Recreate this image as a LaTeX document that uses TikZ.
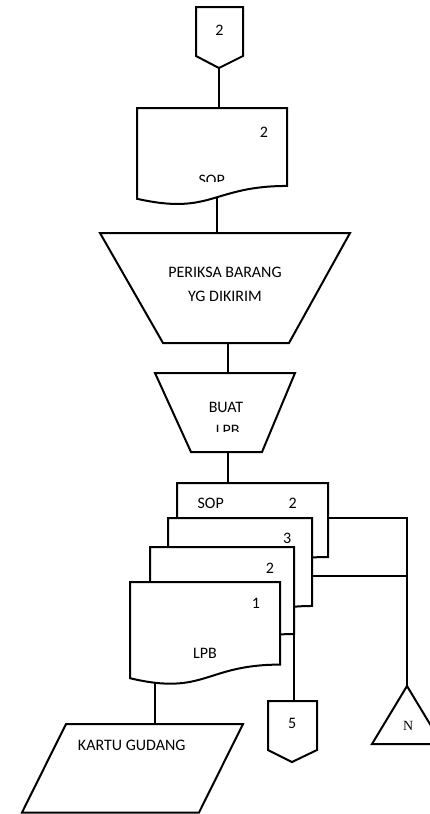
\documentclass[tikz,border=0pt]{standalone}
\usepackage{fontspec}
\setmainfont{Carlito}
\newfontfamily\serifN{Liberation Serif}
\pgfdeclarelayer{bg}
\pgfsetlayers{bg,main}

% Flowchart "document" symbol: #1 name, #2 left, #3 right, #4 top, #5 height
\newcommand\flowdoc[5]{%
  \draw[shp] (#2,#4) -- (#3,#4) -- (#3,{#4+0.802*#5})
    .. controls ({(#2+#3)/2},{#4+0.802*#5}) and ({(#2+#3)/2},{#4+1.1075*#5})
    .. (#2,{#4+0.934*#5}) -- cycle;
  \coordinate (#1-rb) at (#3,{#4+0.802*#5});
}

\begin{document}
\begin{tikzpicture}[x=1pt,y=-1pt,
  shp/.style={draw=black,line width=2pt,fill=white,line join=miter},
  wire/.style={draw=black,line width=2pt},
  lbl/.style={anchor=base,inner sep=0pt,font=\fontsize{16}{19}\selectfont}]
\useasboundingbox (0,0) rectangle (430,814);

% off-page connector 2
\draw[shp] (196,7) -- (243,7) -- (243,56) -- (219,68) -- (196,56) -- cycle;
\coordinate (op2-bot) at (219,68);
\node[lbl] (op2-txt) at (219.5,35) {2};

% document SOP (sheet 2)
\flowdoc{sop}{137}{287}{108}{97.2}
\coordinate (sop-top) at (219,108);
\coordinate (sop-bot) at (217,198);
\node[lbl] (sop-no) at (264,137) {2};
\begin{scope}
  \clip (150,160) rectangle (280,181.7);
  \node[lbl] (sop-txt) at (211.7,185.5) {SOP};
\end{scope}

% manual operation: check goods
\draw[shp] (100,233) -- (350,233) -- (289,343) -- (163,343) -- cycle;
\coordinate (chk-top) at (217,233);
\coordinate (chk-bot) at (228,343);
\node[lbl] (chk-l1) at (225,277.5) {PERIKSA BARANG};
\node[lbl] (chk-l2) at (225,301.5) {YG DIKIRIM};

% manual operation: make LPB
\draw[shp] (155,373) -- (295,373) -- (262,452) -- (191,452) -- cycle;
\coordinate (mk-top) at (228,373);
\coordinate (mk-bot) at (228,452);
\node[lbl] (mk-l1) at (226,412) {BUAT};
\begin{scope}
  \clip (180,415) rectangle (275,431);
  \node[lbl] (mk-l2) at (227.7,435) {LPB};
\end{scope}

% stacked documents, back to front
\flowdoc{dsop}{177}{328}{483}{92.3}
\coordinate (dsop-top) at (228,483);
\coordinate (dsop-r) at (328,518);
\node[lbl] (dsop-txt) at (210.7,508.5) {SOP};
\node[lbl] (dsop-no) at (292.7,508.5) {2};

\flowdoc{d3}{168}{312}{518}{109.7}
\coordinate (d3-r) at (312,576);
\node[lbl] (d3-no) at (287.3,543.5) {3};

\flowdoc{d2}{150}{294}{547}{108.5}
\node[lbl] (d2-no) at (270,573.5) {2};

\flowdoc{d1}{130}{280}{582}{103}
\coordinate (d1-bot) at (155,682);
\node[lbl] (d1-no) at (256,608.5) {1};
\node[lbl] (d1-txt) at (205,658) {LPB};

% off-page connector 5
\draw[shp] (268,701) -- (317,701) -- (317,750) -- (292,762) -- (268,750) -- cycle;
\coordinate (op5-top) at (294,701);
\node[lbl] (op5-txt) at (292.3,728.5) {5};

% file N
\draw[shp] (407,686) -- (442,744) -- (372,744) -- cycle;
\coordinate (fn-top) at (407,686);
\coordinate (fn-j1) at (407,518);
\coordinate (fn-j2) at (407,576);
\node[lbl,font=\serifN\fontsize{14}{16}\selectfont] (fn-txt) at (408.3,730.5) {N};

% record: stock card
\draw[shp] (66,724) -- (243,724) -- (199,812.5) -- (22,812.5) -- cycle;
\coordinate (kg-top) at (155,724);
\node[lbl] (kg-txt) at (131.7,750.5) {KARTU GUDANG};

% flow lines
\begin{pgfonlayer}{bg}
  \draw[wire] (op2-bot) -- (sop-top);
  \draw[wire] (sop-bot) -- (chk-top);
  \draw[wire] (chk-bot) -- (mk-top);
  \draw[wire] (mk-bot) -- (dsop-top);
  \draw[wire] (d1-bot) -- (kg-top);
  \draw[wire] (d2-rb) -- (op5-top);
  \draw[wire] (dsop-r) -- (fn-j1) -- (fn-top);
  \draw[wire] (d3-r) -- (fn-j2);
\end{pgfonlayer}
\end{tikzpicture}
\end{document}
